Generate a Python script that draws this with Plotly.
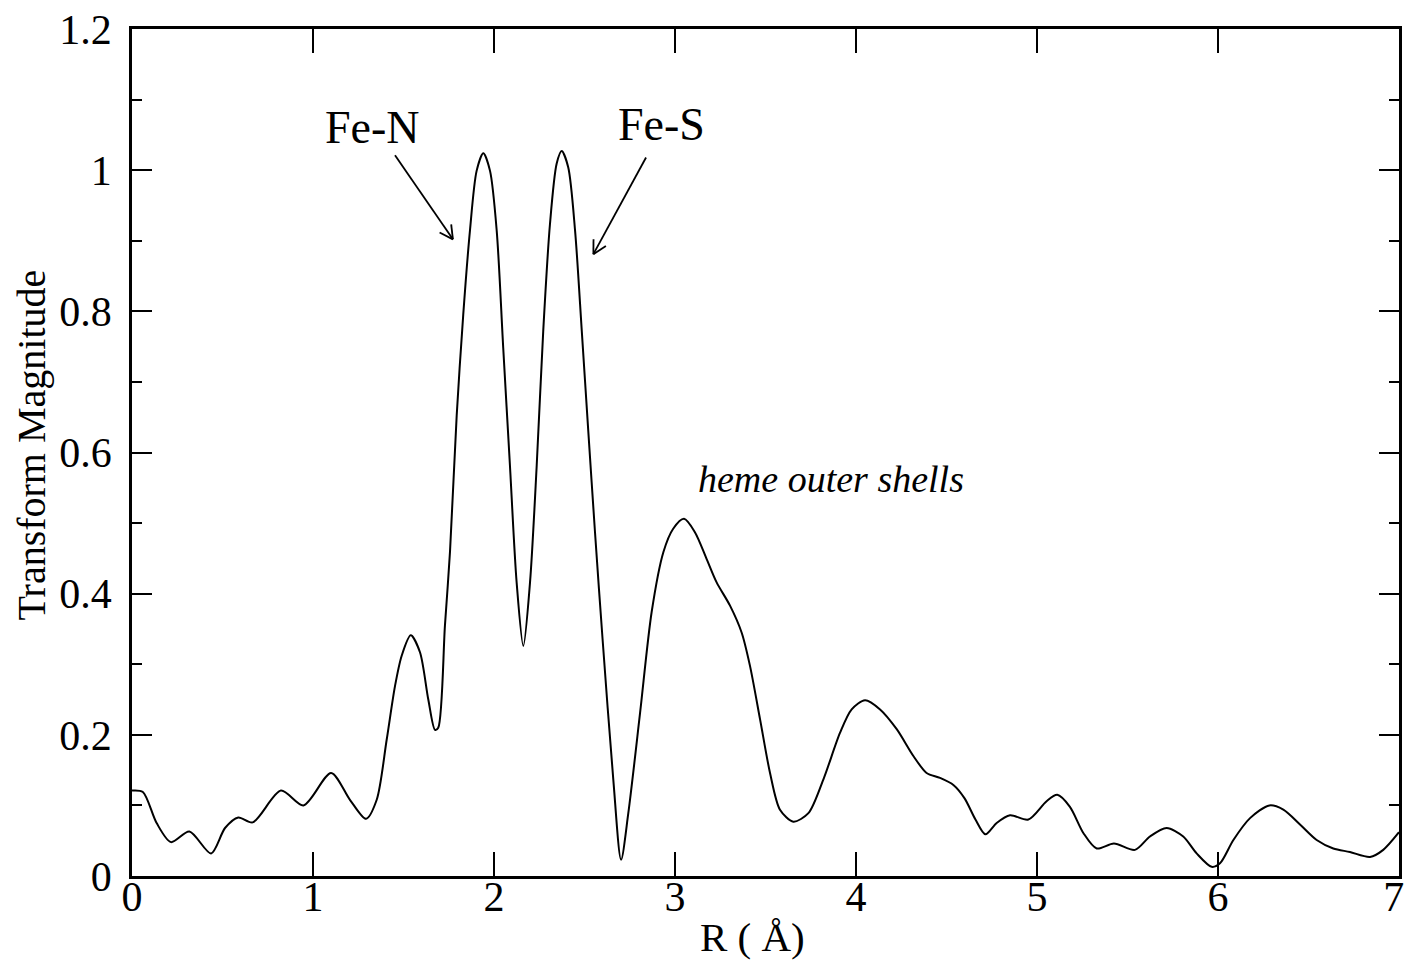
import math
import plotly.graph_objects as go

# ---- data ----
R = [0.00, 0.06, 0.136, 0.215, 0.317, 0.437, 0.514, 0.587, 0.667, 0.823, 0.947,
     1.10, 1.204, 1.293, 1.352, 1.407, 1.453, 1.49, 1.540, 1.591, 1.637, 1.674,
     1.692, 1.729, 1.757, 1.794, 1.830, 1.867, 1.904, 1.941, 1.978, 2.015, 2.051,
     2.088, 2.125, 2.162, 2.199, 2.236, 2.272, 2.309, 2.346, 2.374, 2.41, 2.448,
     2.485, 2.521, 2.558, 2.600, 2.659, 2.702, 2.742, 2.807, 2.871, 2.936, 2.99,
     3.050, 3.11, 3.175, 3.23, 3.304, 3.368, 3.414, 3.47, 3.525, 3.58, 3.654,
     3.737, 3.82, 3.912, 3.976, 4.05, 4.133, 4.225, 4.317, 4.39, 4.464, 4.538,
     4.60, 4.66, 4.715, 4.777, 4.851, 4.952, 5.053, 5.112, 5.182, 5.256, 5.33,
     5.425, 5.541, 5.624, 5.716, 5.808, 5.882, 5.965, 6.011, 6.085, 6.177, 6.284,
     6.361, 6.453, 6.545, 6.637, 6.729, 6.84, 6.913, 7.00]
magnitude = [0.121, 0.119, 0.075, 0.048, 0.063, 0.032, 0.068, 0.083, 0.076, 0.121, 0.100,
             0.146, 0.108, 0.081, 0.108, 0.193, 0.269, 0.312, 0.341, 0.317, 0.250, 0.207,
             0.210, 0.355, 0.460, 0.653, 0.795, 0.914, 0.999, 1.024, 0.999, 0.914, 0.748,
             0.582, 0.416, 0.326, 0.416, 0.582, 0.772, 0.923, 1.009, 1.027, 1.004, 0.914,
             0.772, 0.630, 0.487, 0.335, 0.137, 0.023, 0.089, 0.231, 0.374, 0.459, 0.492,
             0.506, 0.487, 0.449, 0.416, 0.383, 0.345, 0.298, 0.222, 0.146, 0.094, 0.077,
             0.089, 0.137, 0.203, 0.236, 0.249, 0.236, 0.208, 0.170, 0.146, 0.139, 0.129,
             0.110, 0.080, 0.059, 0.075, 0.086, 0.080, 0.106, 0.115, 0.098, 0.061, 0.039,
             0.046, 0.037, 0.056, 0.068, 0.056, 0.032, 0.013, 0.018, 0.051, 0.082, 0.100,
             0.094, 0.073, 0.051, 0.039, 0.034, 0.027, 0.037, 0.062]

x_ticks = [0, 1, 2, 3, 4, 5, 6, 7]
x_tick_labels = ["0", "1", "2", "3", "4", "5", "6", "7\u00a0"]
y_ticks = [0, 0.2, 0.4, 0.6, 0.8, 1.0, 1.2]
y_tick_labels = ["0", "0.2", "0.4", "0.6", "0.8", "1", "1.2"]

# labels: (text, x, y)
peak_labels = [("Fe-N", 1.331, 1.061), ("Fe-S", 2.923, 1.064)]
# arrows: (tail x, tail y, head x, head y)
arrows = [(1.453, 1.021, 1.773, 0.902), (2.840, 1.018, 2.549, 0.881)]
region_label = ("heme outer shells", 3.86, 0.562)

FONT = "Liberation Serif, Times New Roman, Times, serif"
W, H = 1407, 963
ML, MR, MT, MB = 132, 8, 29, 87
XR = (0, 7)
YR = (0, 1.2)
pxx = (W - ML - MR) / (XR[1] - XR[0])
pxy = (H - MT - MB) / (YR[1] - YR[0])

fig = go.Figure()
fig.add_trace(go.Scatter(x=R, y=magnitude, mode="lines",
                         line=dict(color="black", width=2, shape="spline", smoothing=0.8),
                         hoverinfo="skip", showlegend=False))

shapes = []
for tx, ty, hx, hy in arrows:
    shapes.append(dict(type="line", xref="x", yref="y", x0=tx, y0=ty, x1=hx, y1=hy,
                       line=dict(color="black", width=1.8)))
    # open V head built in pixel space
    dx = (tx - hx) * pxx
    dy = (ty - hy) * pxy
    L = math.hypot(dx, dy)
    ux, uy = dx / L, dy / L
    for ang in (math.radians(28), math.radians(-28)):
        rx = ux * math.cos(ang) - uy * math.sin(ang)
        ry = ux * math.sin(ang) + uy * math.cos(ang)
        shapes.append(dict(type="line", xref="x", yref="y", x0=hx, y0=hy,
                           x1=hx + rx * 15 / pxx, y1=hy + ry * 15 / pxy,
                           line=dict(color="black", width=1.8)))

annotations = []
for txt, x, y in peak_labels:
    annotations.append(dict(text=txt, x=x, y=y, xref="x", yref="y", showarrow=False,
                            font=dict(family=FONT, size=46, color="black"),
                            xanchor="center", yanchor="middle"))
annotations.append(dict(text="<i>" + region_label[0] + "</i>", x=region_label[1], y=region_label[2],
                        xref="x", yref="y", showarrow=False,
                        font=dict(family=FONT, size=38, color="black"),
                        xanchor="center", yanchor="middle"))
annotations.append(dict(text="Transform Magnitude", textangle=-90, x=0, xref="paper",
                        xshift=-101, y=0.61, yref="y", showarrow=False,
                        font=dict(family=FONT, size=40, color="black"),
                        xanchor="center", yanchor="middle"))
annotations.append(dict(text="R ( Å)", x=3.43, xref="x", y=0, yref="paper", yshift=-61,
                        showarrow=False, font=dict(family=FONT, size=41, color="black"),
                        xanchor="center", yanchor="middle"))

fig.update_layout(
    width=W, height=H,
    margin=dict(l=ML, r=MR, t=MT, b=MB, autoexpand=False),
    paper_bgcolor="white", plot_bgcolor="white",
    font=dict(family=FONT, size=42, color="black"),
    shapes=shapes, annotations=annotations,
    xaxis=dict(range=list(XR), tickvals=x_ticks, ticktext=x_tick_labels, ticks="inside",
               ticklen=24, tickwidth=2,
               tickcolor="black", showline=True, linecolor="black", linewidth=2.5,
               mirror="ticks", showgrid=False, zeroline=False, automargin=False,
               ticklabeloverflow="allow",
               tickfont=dict(family=FONT, size=42, color="black"), ticklabelstandoff=-18),
    yaxis=dict(range=list(YR), tickvals=y_ticks, ticktext=y_tick_labels, ticks="inside",
               ticklen=20, tickwidth=2, tickcolor="black", showline=True, linecolor="black",
               linewidth=2.5, mirror="ticks", showgrid=False, zeroline=False, automargin=False,
               ticklabeloverflow="allow",
               tickfont=dict(family=FONT, size=42, color="black"), ticklabelstandoff=9,
               minor=dict(dtick=0.1, ticks="inside", ticklen=10, tickwidth=2,
                          tickcolor="black", showgrid=False)),
)

fig.write_html("out.html", config={"displayModeBar": False},
               post_script="document.body.style.margin='0';document.body.style.overflow='hidden';")
